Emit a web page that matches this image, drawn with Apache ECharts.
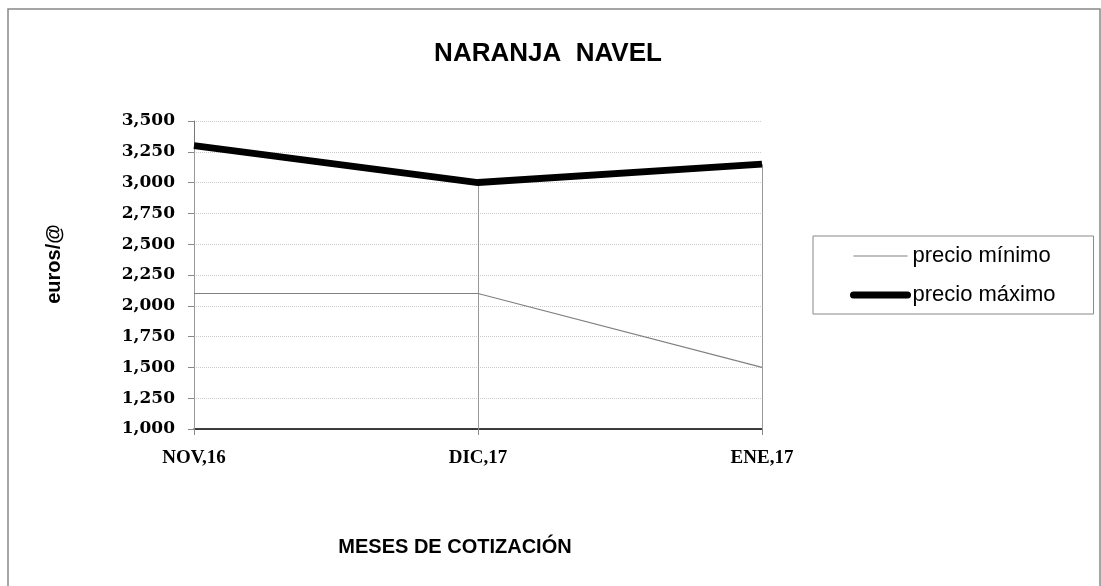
<!DOCTYPE html>
<html>
<head>
    <meta charset="utf-8">
    <title>NARANJA NAVEL</title>
    <script src="https://cdn.jsdelivr.net/npm/echarts@6/dist/echarts.min.js"></script>
    <style>
        html, body { margin: 0; padding: 0; background: #fff; }
    </style>
</head>
<body>
<div id="main" style="width: 1101px;height:586px;"></div>
<script type="text/javascript">
    // datos
    var meses = ['NOV,16', 'DIC,17', 'ENE,17'];
    var precioMinimo = [2.10, 2.10, 1.50];
    var precioMaximo = [3.30, 3.00, 3.15];
    var ejeMin = 1.0;
    var ejeMax = 3.5;
    var ejeIntervalo = 0.25;

    // lineas verticales desde el precio maximo hasta el eje
    var lineasCaida = meses.map(function (m, i) {
        return [{ coord: [m, precioMaximo[i]] }, { coord: [m, ejeMin] }];
    });

    var option = {
        animation: false,
        backgroundColor: '#fff',
        title: {
            text: 'NARANJA  NAVEL',
            left: 543,
            top: 36,
            textAlign: 'center',
            textStyle: {
                fontFamily: 'Liberation Sans',
                fontWeight: 'bold',
                fontSize: 26,
                color: '#000'
            }
        },
        graphic: [{
            type: 'rect',
            shape: { x: 8, y: 9, width: 1092, height: 600 },
            style: { fill: 'none', stroke: '#888', lineWidth: 1.5 },
            silent: true
        }],
        legend: {
            orient: 'vertical',
            left: 813,
            top: 236,
            padding: [9, 38, 8, 37],
            itemGap: 17,
            itemWidth: 54,
            itemHeight: 14,
            borderColor: '#888',
            borderWidth: 1,
            itemStyle: { opacity: 0 },
            textStyle: {
                fontFamily: 'Liberation Sans',
                fontSize: 22,
                color: '#000'
            },
            data: [
                { name: 'precio mínimo', lineStyle: { color: '#aaa', width: 1.5 } },
                { name: 'precio máximo', lineStyle: { color: '#000', width: 7, cap: 'round' } }
            ]
        },
        grid: {
            left: 194,
            right: 339,
            top: 121,
            bottom: 157
        },
        xAxis: {
            type: 'category',
            boundaryGap: false,
            data: meses,
            name: 'MESES DE COTIZACIÓN',
            nameLocation: 'middle',
            nameGap: 108,
            nameTextStyle: {
                fontFamily: 'Liberation Sans',
                fontWeight: 'bold',
                fontSize: 20,
                color: '#000',
                padding: [0, 46, 0, 0]
            },
            axisLine: { lineStyle: { color: '#000', width: 1.5 } },
            axisTick: { show: true, length: 6, lineStyle: { color: '#888' } },
            axisLabel: {
                margin: 20,
                fontFamily: 'Liberation Serif',
                fontWeight: 'bold',
                fontSize: 19,
                color: '#000'
            },
            splitLine: { show: false }
        },
        yAxis: {
            type: 'value',
            min: ejeMin,
            max: ejeMax,
            interval: ejeIntervalo,
            name: 'euros/@',
            nameLocation: 'middle',
            nameRotate: 90,
            nameGap: 130,
            nameTextStyle: {
                fontFamily: 'Liberation Sans',
                fontWeight: 'bold',
                fontSize: 20,
                color: '#000',
                padding: [0, 0, 0, 22]
            },
            axisLine: { show: true, lineStyle: { color: '#777', width: 1 } },
            axisTick: { show: true, length: 6, lineStyle: { color: '#888' } },
            axisLabel: {
                margin: 19,
                fontFamily: 'DejaVu Serif',
                fontWeight: 'bold',
                fontSize: 17,
                color: '#000',
                formatter: function (v) {
                    return v.toFixed(3).replace('.', ',');
                }
            },
            splitLine: { lineStyle: { color: '#ccc', type: 'dotted', width: 1 } }
        },
        series: [
            {
                name: 'precio mínimo',
                type: 'line',
                symbol: 'none',
                data: precioMinimo,
                itemStyle: { color: '#808080' },
                lineStyle: { color: '#808080', width: 1.2 }
            },
            {
                name: 'precio máximo',
                type: 'line',
                symbol: 'none',
                data: precioMaximo,
                z: 3,
                itemStyle: { color: '#000' },
                lineStyle: { color: '#000', width: 7 },
                markLine: {
                    silent: true,
                    symbol: 'none',
                    label: { show: false },
                    lineStyle: { color: '#999', width: 1, type: 'solid' },
                    data: lineasCaida,
                    z: 1
                }
            }
        ]
    };

    var myChart = echarts.init(document.getElementById('main'));
    myChart.setOption(option);
</script>
</body>
</html>
